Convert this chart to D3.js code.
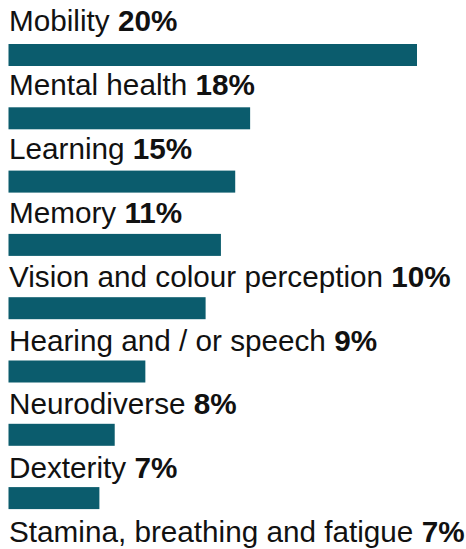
<!DOCTYPE html>
<html>
<head>
<meta charset="utf-8">
<script src="https://cdn.jsdelivr.net/npm/d3@7"></script>
<style>
  html, body { margin: 0; padding: 0; background: #fff; overflow: hidden; }
  svg { display: block; }
  text { font-family: "Liberation Sans", Arial, Helvetica, sans-serif; fill: #111; }
</style>
</head>
<body>
<script>
const categories = ["Mobility", "Mental health", "Learning", "Memory", "Vision and colour perception",
  "Hearing and / or speech", "Neurodiverse", "Dexterity", "Stamina, breathing and fatigue"];
const percentLabels = [20, 18, 15, 11, 10, 9, 8, 7, 7];
const barValues = [20, 11.83, 11.1, 10.4, 9.65, 6.7, 5.2, 4.45, 4.3];

const W = 466, H = 549;
const svg = d3.select("body").append("svg").attr("width", W).attr("height", H);

const x = d3.scaleLinear().domain([0, 20]).range([8.5, 417]);
const yBar = d3.scaleBand().domain(categories).range([44, 44 + 63.3 * categories.length]).paddingInner(0);
const yText = d3.scaleBand().domain(categories).range([31, 31 + 63.9 * categories.length]);

const rows = categories.map((c, i) => ({ cat: c, pct: percentLabels[i], val: barValues[i] }));

svg.selectAll("rect.bar").data(rows).join("rect")
  .attr("class", "bar")
  .attr("x", x(0))
  .attr("y", d => yBar(d.cat))
  .attr("width", d => x(d.val) - x(0))
  .attr("height", 22)
  .attr("fill", "#0b5c6d");

const t = svg.selectAll("text.lbl").data(rows).join("text")
  .attr("class", "lbl")
  .attr("x", 9)
  .attr("y", d => yText(d.cat))
  .style("font-size", "29.7px");
t.append("tspan").text(d => d.cat + " ");
t.append("tspan").attr("font-weight", "bold").text(d => d.pct + "%");
</script>
</body>
</html>
